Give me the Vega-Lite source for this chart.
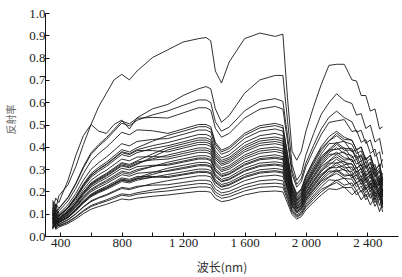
{
"$schema":"https://vega.github.io/schema/vega-lite/v6.json",
"width":353,"height":223,
"autosize":"none",
"padding":{"left":45,"top":13,"right":4,"bottom":41},
"background":"white",
"config":{"view":{"stroke":null},"axis":{"labelFont":"Liberation Serif, Times New Roman, DejaVu Serif, serif","labelFontSize":13,"labelColor":"#222","domainColor":"#111","tickColor":"#111","domainWidth":1,"tickWidth":1,"grid":false}},
"data":{"values":[
{"s":1,"w":350,"r":0.16},{"s":1,"w":370,"r":0.12},{"s":1,"w":390,"r":0.18},{"s":1,"w":450,"r":0.23},{"s":1,"w":500,"r":0.31},{"s":1,"w":550,"r":0.41},{"s":1,"w":600,"r":0.50},{"s":1,"w":650,"r":0.58},{"s":1,"w":700,"r":0.64},{"s":1,"w":750,"r":0.70},{"s":1,"w":800,"r":0.725},{"s":1,"w":850,"r":0.70},{"s":1,"w":900,"r":0.74},{"s":1,"w":1000,"r":0.80},{"s":1,"w":1100,"r":0.835},{"s":1,"w":1200,"r":0.87},{"s":1,"w":1300,"r":0.885},{"s":1,"w":1350,"r":0.89},{"s":1,"w":1380,"r":0.875},{"s":1,"w":1410,"r":0.74},{"s":1,"w":1450,"r":0.686},{"s":1,"w":1500,"r":0.78},{"s":1,"w":1600,"r":0.885},{"s":1,"w":1700,"r":0.91},{"s":1,"w":1800,"r":0.895},{"s":1,"w":1850,"r":0.905},{"s":1,"w":1880,"r":0.62},{"s":1,"w":1910,"r":0.38},{"s":1,"w":1940,"r":0.34},{"s":1,"w":1970,"r":0.38},{"s":1,"w":2000,"r":0.47},{"s":1,"w":2050,"r":0.58},{"s":1,"w":2100,"r":0.68},{"s":1,"w":2150,"r":0.765},{"s":1,"w":2200,"r":0.77},{"s":1,"w":2250,"r":0.77},{"s":1,"w":2300,"r":0.70},{"s":1,"w":2330,"r":0.695},{"s":1,"w":2360,"r":0.63},{"s":1,"w":2390,"r":0.63},{"s":1,"w":2420,"r":0.56},{"s":1,"w":2450,"r":0.57},{"s":1,"w":2480,"r":0.48},{"s":1,"w":2500,"r":0.49},
{"s":2,"w":350,"r":0.12},{"s":2,"w":370,"r":0.17},{"s":2,"w":390,"r":0.15},{"s":2,"w":450,"r":0.25},{"s":2,"w":500,"r":0.36},{"s":2,"w":550,"r":0.45},{"s":2,"w":600,"r":0.50},{"s":2,"w":650,"r":0.47},{"s":2,"w":700,"r":0.46},{"s":2,"w":750,"r":0.50},{"s":2,"w":800,"r":0.52},{"s":2,"w":850,"r":0.48},{"s":2,"w":900,"r":0.53},{"s":2,"w":1000,"r":0.57},{"s":2,"w":1100,"r":0.59},{"s":2,"w":1200,"r":0.63},{"s":2,"w":1300,"r":0.66},{"s":2,"w":1350,"r":0.67},{"s":2,"w":1380,"r":0.66},{"s":2,"w":1410,"r":0.57},{"s":2,"w":1450,"r":0.51},{"s":2,"w":1500,"r":0.54},{"s":2,"w":1600,"r":0.64},{"s":2,"w":1700,"r":0.70},{"s":2,"w":1800,"r":0.72},{"s":2,"w":1850,"r":0.72},{"s":2,"w":1880,"r":0.52},{"s":2,"w":1910,"r":0.32},{"s":2,"w":1940,"r":0.25},{"s":2,"w":1970,"r":0.28},{"s":2,"w":2000,"r":0.364},{"s":2,"w":2050,"r":0.459},{"s":2,"w":2100,"r":0.546},{"s":2,"w":2150,"r":0.597},{"s":2,"w":2200,"r":0.638},{"s":2,"w":2250,"r":0.607},{"s":2,"w":2300,"r":0.594},{"s":2,"w":2330,"r":0.542},{"s":2,"w":2360,"r":0.549},{"s":2,"w":2390,"r":0.482},{"s":2,"w":2420,"r":0.497},{"s":2,"w":2450,"r":0.421},{"s":2,"w":2480,"r":0.438},{"s":2,"w":2500,"r":0.366},
{"s":3,"w":350,"r":0.152},{"s":3,"w":370,"r":0.102},{"s":3,"w":390,"r":0.122},{"s":3,"w":450,"r":0.171},{"s":3,"w":500,"r":0.232},{"s":3,"w":550,"r":0.305},{"s":3,"w":600,"r":0.366},{"s":3,"w":650,"r":0.403},{"s":3,"w":700,"r":0.433},{"s":3,"w":750,"r":0.470},{"s":3,"w":800,"r":0.506},{"s":3,"w":850,"r":0.494},{"s":3,"w":900,"r":0.519},{"s":3,"w":1000,"r":0.543},{"s":3,"w":1100,"r":0.561},{"s":3,"w":1200,"r":0.586},{"s":3,"w":1300,"r":0.61},{"s":3,"w":1350,"r":0.61},{"s":3,"w":1380,"r":0.598},{"s":3,"w":1410,"r":0.512},{"s":3,"w":1450,"r":0.470},{"s":3,"w":1500,"r":0.488},{"s":3,"w":1600,"r":0.561},{"s":3,"w":1700,"r":0.604},{"s":3,"w":1800,"r":0.616},{"s":3,"w":1850,"r":0.604},{"s":3,"w":1880,"r":0.451},{"s":3,"w":1910,"r":0.293},{"s":3,"w":1940,"r":0.232},{"s":3,"w":1970,"r":0.257},{"s":3,"w":2000,"r":0.327},{"s":3,"w":2050,"r":0.407},{"s":3,"w":2100,"r":0.480},{"s":3,"w":2150,"r":0.532},{"s":3,"w":2200,"r":0.56},{"s":3,"w":2250,"r":0.531},{"s":3,"w":2300,"r":0.512},{"s":3,"w":2330,"r":0.466},{"s":3,"w":2360,"r":0.474},{"s":3,"w":2390,"r":0.415},{"s":3,"w":2420,"r":0.431},{"s":3,"w":2450,"r":0.357},{"s":3,"w":2480,"r":0.378},{"s":3,"w":2500,"r":0.306},
{"s":4,"w":350,"r":0.09},{"s":4,"w":370,"r":0.145},{"s":4,"w":390,"r":0.124},{"s":4,"w":450,"r":0.174},{"s":4,"w":500,"r":0.236},{"s":4,"w":550,"r":0.311},{"s":4,"w":600,"r":0.373},{"s":4,"w":650,"r":0.410},{"s":4,"w":700,"r":0.441},{"s":4,"w":750,"r":0.478},{"s":4,"w":800,"r":0.515},{"s":4,"w":850,"r":0.503},{"s":4,"w":900,"r":0.528},{"s":4,"w":1000,"r":0.532},{"s":4,"w":1100,"r":0.529},{"s":4,"w":1200,"r":0.552},{"s":4,"w":1300,"r":0.575},{"s":4,"w":1350,"r":0.575},{"s":4,"w":1380,"r":0.564},{"s":4,"w":1410,"r":0.483},{"s":4,"w":1450,"r":0.443},{"s":4,"w":1500,"r":0.46},{"s":4,"w":1600,"r":0.529},{"s":4,"w":1700,"r":0.569},{"s":4,"w":1800,"r":0.581},{"s":4,"w":1850,"r":0.569},{"s":4,"w":1880,"r":0.426},{"s":4,"w":1910,"r":0.276},{"s":4,"w":1940,"r":0.219},{"s":4,"w":1970,"r":0.243},{"s":4,"w":2000,"r":0.31},{"s":4,"w":2050,"r":0.386},{"s":4,"w":2100,"r":0.455},{"s":4,"w":2150,"r":0.509},{"s":4,"w":2200,"r":0.516},{"s":4,"w":2250,"r":0.522},{"s":4,"w":2300,"r":0.468},{"s":4,"w":2330,"r":0.474},{"s":4,"w":2360,"r":0.42},{"s":4,"w":2390,"r":0.432},{"s":4,"w":2420,"r":0.37},{"s":4,"w":2450,"r":0.39},{"s":4,"w":2480,"r":0.309},{"s":4,"w":2500,"r":0.344},
{"s":5,"w":350,"r":0.128},{"s":5,"w":370,"r":0.06},{"s":5,"w":390,"r":0.093},{"s":5,"w":450,"r":0.130},{"s":5,"w":500,"r":0.177},{"s":5,"w":550,"r":0.233},{"s":5,"w":600,"r":0.280},{"s":5,"w":650,"r":0.308},{"s":5,"w":700,"r":0.331},{"s":5,"w":750,"r":0.359},{"s":5,"w":800,"r":0.387},{"s":5,"w":850,"r":0.377},{"s":5,"w":900,"r":0.396},{"s":5,"w":1000,"r":0.425},{"s":5,"w":1100,"r":0.451},{"s":5,"w":1200,"r":0.470},{"s":5,"w":1300,"r":0.49},{"s":5,"w":1350,"r":0.49},{"s":5,"w":1380,"r":0.48},{"s":5,"w":1410,"r":0.412},{"s":5,"w":1450,"r":0.377},{"s":5,"w":1500,"r":0.392},{"s":5,"w":1600,"r":0.451},{"s":5,"w":1700,"r":0.485},{"s":5,"w":1800,"r":0.495},{"s":5,"w":1850,"r":0.485},{"s":5,"w":1880,"r":0.363},{"s":5,"w":1910,"r":0.235},{"s":5,"w":1940,"r":0.186},{"s":5,"w":1970,"r":0.207},{"s":5,"w":2000,"r":0.266},{"s":5,"w":2050,"r":0.332},{"s":5,"w":2100,"r":0.393},{"s":5,"w":2150,"r":0.427},{"s":5,"w":2200,"r":0.46},{"s":5,"w":2250,"r":0.433},{"s":5,"w":2300,"r":0.43},{"s":5,"w":2330,"r":0.386},{"s":5,"w":2360,"r":0.40},{"s":5,"w":2390,"r":0.341},{"s":5,"w":2420,"r":0.363},{"s":5,"w":2450,"r":0.296},{"s":5,"w":2480,"r":0.322},{"s":5,"w":2500,"r":0.255},
{"s":6,"w":350,"r":0.07},{"s":6,"w":370,"r":0.14},{"s":6,"w":390,"r":0.10},{"s":6,"w":450,"r":0.140},{"s":6,"w":500,"r":0.190},{"s":6,"w":550,"r":0.250},{"s":6,"w":600,"r":0.299},{"s":6,"w":650,"r":0.329},{"s":6,"w":700,"r":0.354},{"s":6,"w":750,"r":0.384},{"s":6,"w":800,"r":0.414},{"s":6,"w":850,"r":0.404},{"s":6,"w":900,"r":0.424},{"s":6,"w":1000,"r":0.433},{"s":6,"w":1100,"r":0.437},{"s":6,"w":1200,"r":0.456},{"s":6,"w":1300,"r":0.475},{"s":6,"w":1350,"r":0.475},{"s":6,"w":1380,"r":0.466},{"s":6,"w":1410,"r":0.399},{"s":6,"w":1450,"r":0.366},{"s":6,"w":1500,"r":0.38},{"s":6,"w":1600,"r":0.437},{"s":6,"w":1700,"r":0.470},{"s":6,"w":1800,"r":0.48},{"s":6,"w":1850,"r":0.47},{"s":6,"w":1880,"r":0.352},{"s":6,"w":1910,"r":0.228},{"s":6,"w":1940,"r":0.18},{"s":6,"w":1970,"r":0.201},{"s":6,"w":2000,"r":0.258},{"s":6,"w":2050,"r":0.323},{"s":6,"w":2100,"r":0.383},{"s":6,"w":2150,"r":0.426},{"s":6,"w":2200,"r":0.45},{"s":6,"w":2250,"r":0.423},{"s":6,"w":2300,"r":0.411},{"s":6,"w":2330,"r":0.369},{"s":6,"w":2360,"r":0.382},{"s":6,"w":2390,"r":0.328},{"s":6,"w":2420,"r":0.348},{"s":6,"w":2450,"r":0.28},{"s":6,"w":2480,"r":0.306},{"s":6,"w":2500,"r":0.238},
{"s":7,"w":350,"r":0.116},{"s":7,"w":370,"r":0.061},{"s":7,"w":390,"r":0.091},{"s":7,"w":450,"r":0.127},{"s":7,"w":500,"r":0.173},{"s":7,"w":550,"r":0.228},{"s":7,"w":600,"r":0.273},{"s":7,"w":650,"r":0.30},{"s":7,"w":700,"r":0.323},{"s":7,"w":750,"r":0.35},{"s":7,"w":800,"r":0.378},{"s":7,"w":850,"r":0.369},{"s":7,"w":900,"r":0.387},{"s":7,"w":1000,"r":0.405},{"s":7,"w":1100,"r":0.419},{"s":7,"w":1200,"r":0.437},{"s":7,"w":1300,"r":0.455},{"s":7,"w":1350,"r":0.455},{"s":7,"w":1380,"r":0.446},{"s":7,"w":1410,"r":0.382},{"s":7,"w":1450,"r":0.35},{"s":7,"w":1500,"r":0.364},{"s":7,"w":1600,"r":0.419},{"s":7,"w":1700,"r":0.45},{"s":7,"w":1800,"r":0.46},{"s":7,"w":1850,"r":0.45},{"s":7,"w":1880,"r":0.337},{"s":7,"w":1910,"r":0.218},{"s":7,"w":1940,"r":0.173},{"s":7,"w":1970,"r":0.193},{"s":7,"w":2000,"r":0.248},{"s":7,"w":2050,"r":0.31},{"s":7,"w":2100,"r":0.368},{"s":7,"w":2150,"r":0.414},{"s":7,"w":2200,"r":0.417},{"s":7,"w":2250,"r":0.425},{"s":7,"w":2300,"r":0.377},{"s":7,"w":2330,"r":0.387},{"s":7,"w":2360,"r":0.337},{"s":7,"w":2390,"r":0.354},{"s":7,"w":2420,"r":0.295},{"s":7,"w":2450,"r":0.321},{"s":7,"w":2480,"r":0.245},{"s":7,"w":2500,"r":0.282},
{"s":8,"w":350,"r":0.109},{"s":8,"w":370,"r":0.084},{"s":8,"w":390,"r":0.079},{"s":8,"w":450,"r":0.111},{"s":8,"w":500,"r":0.150},{"s":8,"w":550,"r":0.198},{"s":8,"w":600,"r":0.238},{"s":8,"w":650,"r":0.261},{"s":8,"w":700,"r":0.281},{"s":8,"w":750,"r":0.305},{"s":8,"w":800,"r":0.329},{"s":8,"w":850,"r":0.321},{"s":8,"w":900,"r":0.337},{"s":8,"w":1000,"r":0.368},{"s":8,"w":1100,"r":0.396},{"s":8,"w":1200,"r":0.413},{"s":8,"w":1300,"r":0.43},{"s":8,"w":1350,"r":0.43},{"s":8,"w":1380,"r":0.421},{"s":8,"w":1410,"r":0.361},{"s":8,"w":1450,"r":0.331},{"s":8,"w":1500,"r":0.344},{"s":8,"w":1600,"r":0.396},{"s":8,"w":1700,"r":0.426},{"s":8,"w":1800,"r":0.434},{"s":8,"w":1850,"r":0.426},{"s":8,"w":1880,"r":0.318},{"s":8,"w":1910,"r":0.206},{"s":8,"w":1940,"r":0.163},{"s":8,"w":1970,"r":0.182},{"s":8,"w":2000,"r":0.235},{"s":8,"w":2050,"r":0.295},{"s":8,"w":2100,"r":0.35},{"s":8,"w":2150,"r":0.38},{"s":8,"w":2200,"r":0.411},{"s":8,"w":2250,"r":0.385},{"s":8,"w":2300,"r":0.385},{"s":8,"w":2330,"r":0.343},{"s":8,"w":2360,"r":0.359},{"s":8,"w":2390,"r":0.302},{"s":8,"w":2420,"r":0.326},{"s":8,"w":2450,"r":0.262},{"s":8,"w":2480,"r":0.29},{"s":8,"w":2500,"r":0.225},
{"s":9,"w":350,"r":0.055},{"s":9,"w":370,"r":0.12},{"s":9,"w":390,"r":0.09},{"s":9,"w":450,"r":0.126},{"s":9,"w":500,"r":0.171},{"s":9,"w":550,"r":0.226},{"s":9,"w":600,"r":0.271},{"s":9,"w":650,"r":0.298},{"s":9,"w":700,"r":0.32},{"s":9,"w":750,"r":0.347},{"s":9,"w":800,"r":0.374},{"s":9,"w":850,"r":0.365},{"s":9,"w":900,"r":0.383},{"s":9,"w":1000,"r":0.383},{"s":9,"w":1100,"r":0.377},{"s":9,"w":1200,"r":0.394},{"s":9,"w":1300,"r":0.41},{"s":9,"w":1350,"r":0.41},{"s":9,"w":1380,"r":0.402},{"s":9,"w":1410,"r":0.344},{"s":9,"w":1450,"r":0.316},{"s":9,"w":1500,"r":0.328},{"s":9,"w":1600,"r":0.377},{"s":9,"w":1700,"r":0.406},{"s":9,"w":1800,"r":0.414},{"s":9,"w":1850,"r":0.406},{"s":9,"w":1880,"r":0.303},{"s":9,"w":1910,"r":0.197},{"s":9,"w":1940,"r":0.156},{"s":9,"w":1970,"r":0.174},{"s":9,"w":2000,"r":0.225},{"s":9,"w":2050,"r":0.283},{"s":9,"w":2100,"r":0.335},{"s":9,"w":2150,"r":0.374},{"s":9,"w":2200,"r":0.396},{"s":9,"w":2250,"r":0.37},{"s":9,"w":2300,"r":0.361},{"s":9,"w":2330,"r":0.322},{"s":9,"w":2360,"r":0.336},{"s":9,"w":2390,"r":0.285},{"s":9,"w":2420,"r":0.308},{"s":9,"w":2450,"r":0.242},{"s":9,"w":2480,"r":0.271},{"s":9,"w":2500,"r":0.204},
{"s":10,"w":350,"r":0.097},{"s":10,"w":370,"r":0.052},{"s":10,"w":390,"r":0.077},{"s":10,"w":450,"r":0.107},{"s":10,"w":500,"r":0.146},{"s":10,"w":550,"r":0.192},{"s":10,"w":600,"r":0.23},{"s":10,"w":650,"r":0.253},{"s":10,"w":700,"r":0.272},{"s":10,"w":750,"r":0.295},{"s":10,"w":800,"r":0.318},{"s":10,"w":850,"r":0.31},{"s":10,"w":900,"r":0.326},{"s":10,"w":1000,"r":0.346},{"s":10,"w":1100,"r":0.363},{"s":10,"w":1200,"r":0.379},{"s":10,"w":1300,"r":0.395},{"s":10,"w":1350,"r":0.395},{"s":10,"w":1380,"r":0.387},{"s":10,"w":1410,"r":0.332},{"s":10,"w":1450,"r":0.304},{"s":10,"w":1500,"r":0.316},{"s":10,"w":1600,"r":0.363},{"s":10,"w":1700,"r":0.391},{"s":10,"w":1800,"r":0.399},{"s":10,"w":1850,"r":0.391},{"s":10,"w":1880,"r":0.292},{"s":10,"w":1910,"r":0.19},{"s":10,"w":1940,"r":0.15},{"s":10,"w":1970,"r":0.168},{"s":10,"w":2000,"r":0.217},{"s":10,"w":2050,"r":0.273},{"s":10,"w":2100,"r":0.325},{"s":10,"w":2150,"r":0.366},{"s":10,"w":2200,"r":0.368},{"s":10,"w":2250,"r":0.377},{"s":10,"w":2300,"r":0.332},{"s":10,"w":2330,"r":0.344},{"s":10,"w":2360,"r":0.296},{"s":10,"w":2390,"r":0.315},{"s":10,"w":2420,"r":0.259},{"s":10,"w":2450,"r":0.287},{"s":10,"w":2480,"r":0.213},{"s":10,"w":2500,"r":0.252},
{"s":11,"w":350,"r":0.118},{"s":11,"w":370,"r":0.068},{"s":11,"w":390,"r":0.078},{"s":11,"w":450,"r":0.109},{"s":11,"w":500,"r":0.148},{"s":11,"w":550,"r":0.195},{"s":11,"w":600,"r":0.234},{"s":11,"w":650,"r":0.257},{"s":11,"w":700,"r":0.277},{"s":11,"w":750,"r":0.30},{"s":11,"w":800,"r":0.324},{"s":11,"w":850,"r":0.316},{"s":11,"w":900,"r":0.332},{"s":11,"w":1000,"r":0.341},{"s":11,"w":1100,"r":0.345},{"s":11,"w":1200,"r":0.36},{"s":11,"w":1300,"r":0.375},{"s":11,"w":1350,"r":0.375},{"s":11,"w":1380,"r":0.368},{"s":11,"w":1410,"r":0.315},{"s":11,"w":1450,"r":0.289},{"s":11,"w":1500,"r":0.30},{"s":11,"w":1600,"r":0.345},{"s":11,"w":1700,"r":0.371},{"s":11,"w":1800,"r":0.379},{"s":11,"w":1850,"r":0.371},{"s":11,"w":1880,"r":0.278},{"s":11,"w":1910,"r":0.18},{"s":11,"w":1940,"r":0.143},{"s":11,"w":1970,"r":0.16},{"s":11,"w":2000,"r":0.208},{"s":11,"w":2050,"r":0.261},{"s":11,"w":2100,"r":0.311},{"s":11,"w":2150,"r":0.337},{"s":11,"w":2200,"r":0.366},{"s":11,"w":2250,"r":0.341},{"s":11,"w":2300,"r":0.343},{"s":11,"w":2330,"r":0.303},{"s":11,"w":2360,"r":0.321},{"s":11,"w":2390,"r":0.267},{"s":11,"w":2420,"r":0.293},{"s":11,"w":2450,"r":0.231},{"s":11,"w":2480,"r":0.261},{"s":11,"w":2500,"r":0.197},
{"s":12,"w":350,"r":0.038},{"s":12,"w":370,"r":0.103},{"s":12,"w":390,"r":0.068},{"s":12,"w":450,"r":0.096},{"s":12,"w":500,"r":0.13},{"s":12,"w":550,"r":0.171},{"s":12,"w":600,"r":0.205},{"s":12,"w":650,"r":0.226},{"s":12,"w":700,"r":0.243},{"s":12,"w":750,"r":0.263},{"s":12,"w":800,"r":0.284},{"s":12,"w":850,"r":0.277},{"s":12,"w":900,"r":0.291},{"s":12,"w":1000,"r":0.312},{"s":12,"w":1100,"r":0.331},{"s":12,"w":1200,"r":0.346},{"s":12,"w":1300,"r":0.36},{"s":12,"w":1350,"r":0.36},{"s":12,"w":1380,"r":0.353},{"s":12,"w":1410,"r":0.302},{"s":12,"w":1450,"r":0.277},{"s":12,"w":1500,"r":0.288},{"s":12,"w":1600,"r":0.331},{"s":12,"w":1700,"r":0.356},{"s":12,"w":1800,"r":0.364},{"s":12,"w":1850,"r":0.356},{"s":12,"w":1880,"r":0.266},{"s":12,"w":1910,"r":0.173},{"s":12,"w":1940,"r":0.137},{"s":12,"w":1970,"r":0.154},{"s":12,"w":2000,"r":0.199},{"s":12,"w":2050,"r":0.251},{"s":12,"w":2100,"r":0.299},{"s":12,"w":2150,"r":0.334},{"s":12,"w":2200,"r":0.355},{"s":12,"w":2250,"r":0.33},{"s":12,"w":2300,"r":0.323},{"s":12,"w":2330,"r":0.286},{"s":12,"w":2360,"r":0.302},{"s":12,"w":2390,"r":0.253},{"s":12,"w":2420,"r":0.277},{"s":12,"w":2450,"r":0.214},{"s":12,"w":2480,"r":0.244},{"s":12,"w":2500,"r":0.179},
{"s":13,"w":350,"r":0.103},{"s":13,"w":370,"r":0.05},{"s":13,"w":390,"r":0.073},{"s":13,"w":450,"r":0.102},{"s":13,"w":500,"r":0.139},{"s":13,"w":550,"r":0.183},{"s":13,"w":600,"r":0.22},{"s":13,"w":650,"r":0.242},{"s":13,"w":700,"r":0.26},{"s":13,"w":750,"r":0.282},{"s":13,"w":800,"r":0.304},{"s":13,"w":850,"r":0.296},{"s":13,"w":900,"r":0.311},{"s":13,"w":1000,"r":0.317},{"s":13,"w":1100,"r":0.317},{"s":13,"w":1200,"r":0.331},{"s":13,"w":1300,"r":0.345},{"s":13,"w":1350,"r":0.345},{"s":13,"w":1380,"r":0.338},{"s":13,"w":1410,"r":0.29},{"s":13,"w":1450,"r":0.266},{"s":13,"w":1500,"r":0.276},{"s":13,"w":1600,"r":0.317},{"s":13,"w":1700,"r":0.342},{"s":13,"w":1800,"r":0.348},{"s":13,"w":1850,"r":0.342},{"s":13,"w":1880,"r":0.255},{"s":13,"w":1910,"r":0.166},{"s":13,"w":1940,"r":0.131},{"s":13,"w":1970,"r":0.147},{"s":13,"w":2000,"r":0.192},{"s":13,"w":2050,"r":0.242},{"s":13,"w":2100,"r":0.289},{"s":13,"w":2150,"r":0.327},{"s":13,"w":2200,"r":0.327},{"s":13,"w":2250,"r":0.336},{"s":13,"w":2300,"r":0.294},{"s":13,"w":2330,"r":0.308},{"s":13,"w":2360,"r":0.262},{"s":13,"w":2390,"r":0.283},{"s":13,"w":2420,"r":0.228},{"s":13,"w":2450,"r":0.258},{"s":13,"w":2480,"r":0.186},{"s":13,"w":2500,"r":0.226},
{"s":14,"w":350,"r":0.086},{"s":14,"w":370,"r":0.041},{"s":14,"w":390,"r":0.061},{"s":14,"w":450,"r":0.086},{"s":14,"w":500,"r":0.117},{"s":14,"w":550,"r":0.154},{"s":14,"w":600,"r":0.184},{"s":14,"w":650,"r":0.203},{"s":14,"w":700,"r":0.218},{"s":14,"w":750,"r":0.236},{"s":14,"w":800,"r":0.255},{"s":14,"w":850,"r":0.249},{"s":14,"w":900,"r":0.261},{"s":14,"w":1000,"r":0.284},{"s":14,"w":1100,"r":0.304},{"s":14,"w":1200,"r":0.317},{"s":14,"w":1300,"r":0.33},{"s":14,"w":1350,"r":0.33},{"s":14,"w":1380,"r":0.323},{"s":14,"w":1410,"r":0.277},{"s":14,"w":1450,"r":0.254},{"s":14,"w":1500,"r":0.264},{"s":14,"w":1600,"r":0.304},{"s":14,"w":1700,"r":0.327},{"s":14,"w":1800,"r":0.333},{"s":14,"w":1850,"r":0.327},{"s":14,"w":1880,"r":0.244},{"s":14,"w":1910,"r":0.158},{"s":14,"w":1940,"r":0.125},{"s":14,"w":1970,"r":0.141},{"s":14,"w":2000,"r":0.184},{"s":14,"w":2050,"r":0.233},{"s":14,"w":2100,"r":0.278},{"s":14,"w":2150,"r":0.301},{"s":14,"w":2200,"r":0.329},{"s":14,"w":2250,"r":0.305},{"s":14,"w":2300,"r":0.309},{"s":14,"w":2330,"r":0.27},{"s":14,"w":2360,"r":0.29},{"s":14,"w":2390,"r":0.238},{"s":14,"w":2420,"r":0.265},{"s":14,"w":2450,"r":0.205},{"s":14,"w":2480,"r":0.237},{"s":14,"w":2500,"r":0.174},
{"s":15,"w":350,"r":0.101},{"s":15,"w":370,"r":0.041},{"s":15,"w":390,"r":0.066},{"s":15,"w":450,"r":0.093},{"s":15,"w":500,"r":0.126},{"s":15,"w":550,"r":0.166},{"s":15,"w":600,"r":0.199},{"s":15,"w":650,"r":0.218},{"s":15,"w":700,"r":0.235},{"s":15,"w":750,"r":0.255},{"s":15,"w":800,"r":0.275},{"s":15,"w":850,"r":0.268},{"s":15,"w":900,"r":0.281},{"s":15,"w":1000,"r":0.287},{"s":15,"w":1100,"r":0.29},{"s":15,"w":1200,"r":0.302},{"s":15,"w":1300,"r":0.315},{"s":15,"w":1350,"r":0.315},{"s":15,"w":1380,"r":0.309},{"s":15,"w":1410,"r":0.265},{"s":15,"w":1450,"r":0.243},{"s":15,"w":1500,"r":0.252},{"s":15,"w":1600,"r":0.29},{"s":15,"w":1700,"r":0.312},{"s":15,"w":1800,"r":0.318},{"s":15,"w":1850,"r":0.312},{"s":15,"w":1880,"r":0.233},{"s":15,"w":1910,"r":0.151},{"s":15,"w":1940,"r":0.12},{"s":15,"w":1970,"r":0.135},{"s":15,"w":2000,"r":0.176},{"s":15,"w":2050,"r":0.223},{"s":15,"w":2100,"r":0.267},{"s":15,"w":2150,"r":0.299},{"s":15,"w":2200,"r":0.318},{"s":15,"w":2250,"r":0.294},{"s":15,"w":2300,"r":0.289},{"s":15,"w":2330,"r":0.253},{"s":15,"w":2360,"r":0.271},{"s":15,"w":2390,"r":0.223},{"s":15,"w":2420,"r":0.249},{"s":15,"w":2450,"r":0.188},{"s":15,"w":2480,"r":0.22},{"s":15,"w":2500,"r":0.156},
{"s":16,"w":350,"r":0.079},{"s":16,"w":370,"r":0.099},{"s":16,"w":390,"r":0.059},{"s":16,"w":450,"r":0.082},{"s":16,"w":500,"r":0.112},{"s":16,"w":550,"r":0.147},{"s":16,"w":600,"r":0.176},{"s":16,"w":650,"r":0.194},{"s":16,"w":700,"r":0.209},{"s":16,"w":750,"r":0.226},{"s":16,"w":800,"r":0.244},{"s":16,"w":850,"r":0.238},{"s":16,"w":900,"r":0.25},{"s":16,"w":1000,"r":0.264},{"s":16,"w":1100,"r":0.276},{"s":16,"w":1200,"r":0.288},{"s":16,"w":1300,"r":0.30},{"s":16,"w":1350,"r":0.30},{"s":16,"w":1380,"r":0.294},{"s":16,"w":1410,"r":0.252},{"s":16,"w":1450,"r":0.231},{"s":16,"w":1500,"r":0.24},{"s":16,"w":1600,"r":0.276},{"s":16,"w":1700,"r":0.297},{"s":16,"w":1800,"r":0.303},{"s":16,"w":1850,"r":0.297},{"s":16,"w":1880,"r":0.222},{"s":16,"w":1910,"r":0.144},{"s":16,"w":1940,"r":0.114},{"s":16,"w":1970,"r":0.129},{"s":16,"w":2000,"r":0.169},{"s":16,"w":2050,"r":0.214},{"s":16,"w":2100,"r":0.256},{"s":16,"w":2150,"r":0.291},{"s":16,"w":2200,"r":0.29},{"s":16,"w":2250,"r":0.30},{"s":16,"w":2300,"r":0.26},{"s":16,"w":2330,"r":0.275},{"s":16,"w":2360,"r":0.231},{"s":16,"w":2390,"r":0.254},{"s":16,"w":2420,"r":0.2},{"s":16,"w":2450,"r":0.232},{"s":16,"w":2480,"r":0.162},{"s":16,"w":2500,"r":0.204},
{"s":17,"w":350,"r":0.033},{"s":17,"w":370,"r":0.093},{"s":17,"w":390,"r":0.063},{"s":17,"w":450,"r":0.088},{"s":17,"w":500,"r":0.119},{"s":17,"w":550,"r":0.157},{"s":17,"w":600,"r":0.188},{"s":17,"w":650,"r":0.207},{"s":17,"w":700,"r":0.223},{"s":17,"w":750,"r":0.242},{"s":17,"w":800,"r":0.261},{"s":17,"w":850,"r":0.254},{"s":17,"w":900,"r":0.267},{"s":17,"w":1000,"r":0.267},{"s":17,"w":1100,"r":0.262},{"s":17,"w":1200,"r":0.274},{"s":17,"w":1300,"r":0.285},{"s":17,"w":1350,"r":0.285},{"s":17,"w":1380,"r":0.279},{"s":17,"w":1410,"r":0.239},{"s":17,"w":1450,"r":0.219},{"s":17,"w":1500,"r":0.228},{"s":17,"w":1600,"r":0.262},{"s":17,"w":1700,"r":0.282},{"s":17,"w":1800,"r":0.288},{"s":17,"w":1850,"r":0.282},{"s":17,"w":1880,"r":0.211},{"s":17,"w":1910,"r":0.137},{"s":17,"w":1940,"r":0.108},{"s":17,"w":1970,"r":0.122},{"s":17,"w":2000,"r":0.161},{"s":17,"w":2050,"r":0.205},{"s":17,"w":2100,"r":0.245},{"s":17,"w":2150,"r":0.266},{"s":17,"w":2200,"r":0.292},{"s":17,"w":2250,"r":0.268},{"s":17,"w":2300,"r":0.275},{"s":17,"w":2330,"r":0.238},{"s":17,"w":2360,"r":0.259},{"s":17,"w":2390,"r":0.208},{"s":17,"w":2420,"r":0.237},{"s":17,"w":2450,"r":0.179},{"s":17,"w":2480,"r":0.213},{"s":17,"w":2500,"r":0.151},
{"s":18,"w":350,"r":0.081},{"s":18,"w":370,"r":0.036},{"s":18,"w":390,"r":0.051},{"s":18,"w":450,"r":0.072},{"s":18,"w":500,"r":0.098},{"s":18,"w":550,"r":0.129},{"s":18,"w":600,"r":0.154},{"s":18,"w":650,"r":0.17},{"s":18,"w":700,"r":0.182},{"s":18,"w":750,"r":0.198},{"s":18,"w":800,"r":0.213},{"s":18,"w":850,"r":0.208},{"s":18,"w":900,"r":0.218},{"s":18,"w":1000,"r":0.235},{"s":18,"w":1100,"r":0.248},{"s":18,"w":1200,"r":0.259},{"s":18,"w":1300,"r":0.27},{"s":18,"w":1350,"r":0.27},{"s":18,"w":1380,"r":0.265},{"s":18,"w":1410,"r":0.227},{"s":18,"w":1450,"r":0.208},{"s":18,"w":1500,"r":0.216},{"s":18,"w":1600,"r":0.248},{"s":18,"w":1700,"r":0.267},{"s":18,"w":1800,"r":0.273},{"s":18,"w":1850,"r":0.267},{"s":18,"w":1880,"r":0.20},{"s":18,"w":1910,"r":0.13},{"s":18,"w":1940,"r":0.103},{"s":18,"w":1970,"r":0.116},{"s":18,"w":2000,"r":0.153},{"s":18,"w":2050,"r":0.195},{"s":18,"w":2100,"r":0.234},{"s":18,"w":2150,"r":0.263},{"s":18,"w":2200,"r":0.281},{"s":18,"w":2250,"r":0.258},{"s":18,"w":2300,"r":0.255},{"s":18,"w":2330,"r":0.22},{"s":18,"w":2360,"r":0.24},{"s":18,"w":2390,"r":0.194},{"s":18,"w":2420,"r":0.221},{"s":18,"w":2450,"r":0.162},{"s":18,"w":2480,"r":0.196},{"s":18,"w":2500,"r":0.133},
{"s":19,"w":350,"r":0.088},{"s":19,"w":370,"r":0.033},{"s":19,"w":390,"r":0.053},{"s":19,"w":450,"r":0.074},{"s":19,"w":500,"r":0.10},{"s":19,"w":550,"r":0.131},{"s":19,"w":600,"r":0.158},{"s":19,"w":650,"r":0.173},{"s":19,"w":700,"r":0.186},{"s":19,"w":750,"r":0.202},{"s":19,"w":800,"r":0.218},{"s":19,"w":850,"r":0.213},{"s":19,"w":900,"r":0.223},{"s":19,"w":1000,"r":0.228},{"s":19,"w":1100,"r":0.23},{"s":19,"w":1200,"r":0.24},{"s":19,"w":1300,"r":0.25},{"s":19,"w":1350,"r":0.25},{"s":19,"w":1380,"r":0.245},{"s":19,"w":1410,"r":0.21},{"s":19,"w":1450,"r":0.193},{"s":19,"w":1500,"r":0.20},{"s":19,"w":1600,"r":0.23},{"s":19,"w":1700,"r":0.248},{"s":19,"w":1800,"r":0.253},{"s":19,"w":1850,"r":0.248},{"s":19,"w":1880,"r":0.185},{"s":19,"w":1910,"r":0.12},{"s":19,"w":1940,"r":0.095},{"s":19,"w":1970,"r":0.108},{"s":19,"w":2000,"r":0.143},{"s":19,"w":2050,"r":0.183},{"s":19,"w":2100,"r":0.22},{"s":19,"w":2150,"r":0.252},{"s":19,"w":2200,"r":0.249},{"s":19,"w":2250,"r":0.26},{"s":19,"w":2300,"r":0.223},{"s":19,"w":2330,"r":0.239},{"s":19,"w":2360,"r":0.196},{"s":19,"w":2390,"r":0.221},{"s":19,"w":2420,"r":0.169},{"s":19,"w":2450,"r":0.204},{"s":19,"w":2480,"r":0.136},{"s":19,"w":2500,"r":0.178},
{"s":20,"w":350,"r":0.071},{"s":20,"w":370,"r":0.091},{"s":20,"w":390,"r":0.046},{"s":20,"w":450,"r":0.064},{"s":20,"w":500,"r":0.087},{"s":20,"w":550,"r":0.114},{"s":20,"w":600,"r":0.137},{"s":20,"w":650,"r":0.15},{"s":20,"w":700,"r":0.162},{"s":20,"w":750,"r":0.176},{"s":20,"w":800,"r":0.189},{"s":20,"w":850,"r":0.185},{"s":20,"w":900,"r":0.194},{"s":20,"w":1000,"r":0.206},{"s":20,"w":1100,"r":0.216},{"s":20,"w":1200,"r":0.226},{"s":20,"w":1300,"r":0.235},{"s":20,"w":1350,"r":0.235},{"s":20,"w":1380,"r":0.23},{"s":20,"w":1410,"r":0.197},{"s":20,"w":1450,"r":0.181},{"s":20,"w":1500,"r":0.188},{"s":20,"w":1600,"r":0.216},{"s":20,"w":1700,"r":0.233},{"s":20,"w":1800,"r":0.237},{"s":20,"w":1850,"r":0.233},{"s":20,"w":1880,"r":0.174},{"s":20,"w":1910,"r":0.113},{"s":20,"w":1940,"r":0.089},{"s":20,"w":1970,"r":0.101},{"s":20,"w":2000,"r":0.135},{"s":20,"w":2050,"r":0.174},{"s":20,"w":2100,"r":0.209},{"s":20,"w":2150,"r":0.226},{"s":20,"w":2200,"r":0.251},{"s":20,"w":2250,"r":0.228},{"s":20,"w":2300,"r":0.238},{"s":20,"w":2330,"r":0.202},{"s":20,"w":2360,"r":0.224},{"s":20,"w":2390,"r":0.176},{"s":20,"w":2420,"r":0.206},{"s":20,"w":2450,"r":0.15},{"s":20,"w":2480,"r":0.186},{"s":20,"w":2500,"r":0.126},
{"s":21,"w":350,"r":0.03},{"s":21,"w":370,"r":0.074},{"s":21,"w":390,"r":0.044},{"s":21,"w":450,"r":0.062},{"s":21,"w":500,"r":0.084},{"s":21,"w":550,"r":0.11},{"s":21,"w":600,"r":0.132},{"s":21,"w":650,"r":0.145},{"s":21,"w":700,"r":0.156},{"s":21,"w":750,"r":0.169},{"s":21,"w":800,"r":0.183},{"s":21,"w":850,"r":0.178},{"s":21,"w":900,"r":0.187},{"s":21,"w":1000,"r":0.196},{"s":21,"w":1100,"r":0.202},{"s":21,"w":1200,"r":0.211},{"s":21,"w":1300,"r":0.22},{"s":21,"w":1350,"r":0.22},{"s":21,"w":1380,"r":0.216},{"s":21,"w":1410,"r":0.185},{"s":21,"w":1450,"r":0.169},{"s":21,"w":1500,"r":0.176},{"s":21,"w":1600,"r":0.202},{"s":21,"w":1700,"r":0.218},{"s":21,"w":1800,"r":0.222},{"s":21,"w":1850,"r":0.218},{"s":21,"w":1880,"r":0.163},{"s":21,"w":1910,"r":0.106},{"s":21,"w":1940,"r":0.084},{"s":21,"w":1970,"r":0.096},{"s":21,"w":2000,"r":0.128},{"s":21,"w":2050,"r":0.164},{"s":21,"w":2100,"r":0.198},{"s":21,"w":2150,"r":0.224},{"s":21,"w":2200,"r":0.24},{"s":21,"w":2250,"r":0.217},{"s":21,"w":2300,"r":0.218},{"s":21,"w":2330,"r":0.184},{"s":21,"w":2360,"r":0.205},{"s":21,"w":2390,"r":0.162},{"s":21,"w":2420,"r":0.191},{"s":21,"w":2450,"r":0.133},{"s":21,"w":2480,"r":0.17},{"s":21,"w":2500,"r":0.108},
{"s":22,"w":350,"r":0.07},{"s":22,"w":370,"r":0.03},{"s":22,"w":390,"r":0.04},{"s":22,"w":450,"r":0.056},{"s":22,"w":500,"r":0.076},{"s":22,"w":550,"r":0.10},{"s":22,"w":600,"r":0.12},{"s":22,"w":650,"r":0.132},{"s":22,"w":700,"r":0.142},{"s":22,"w":750,"r":0.154},{"s":22,"w":800,"r":0.166},{"s":22,"w":850,"r":0.162},{"s":22,"w":900,"r":0.17},{"s":22,"w":1000,"r":0.178},{"s":22,"w":1100,"r":0.184},{"s":22,"w":1200,"r":0.192},{"s":22,"w":1300,"r":0.20},{"s":22,"w":1350,"r":0.20},{"s":22,"w":1380,"r":0.196},{"s":22,"w":1410,"r":0.168},{"s":22,"w":1450,"r":0.154},{"s":22,"w":1500,"r":0.16},{"s":22,"w":1600,"r":0.184},{"s":22,"w":1700,"r":0.198},{"s":22,"w":1800,"r":0.202},{"s":22,"w":1850,"r":0.198},{"s":22,"w":1880,"r":0.148},{"s":22,"w":1910,"r":0.096},{"s":22,"w":1940,"r":0.076},{"s":22,"w":1970,"r":0.087},{"s":22,"w":2000,"r":0.117},{"s":22,"w":2050,"r":0.152},{"s":22,"w":2100,"r":0.184},{"s":22,"w":2150,"r":0.212},{"s":22,"w":2200,"r":0.208},{"s":22,"w":2250,"r":0.22},{"s":22,"w":2300,"r":0.185},{"s":22,"w":2330,"r":0.203},{"s":22,"w":2360,"r":0.162},{"s":22,"w":2390,"r":0.189},{"s":22,"w":2420,"r":0.139},{"s":22,"w":2450,"r":0.175},{"s":22,"w":2480,"r":0.109},{"s":22,"w":2500,"r":0.152},
{"s":23,"w":350,"r":0.142},{"s":23,"w":370,"r":0.082},{"s":23,"w":390,"r":0.112},{"s":23,"w":450,"r":0.157},{"s":23,"w":500,"r":0.213},{"s":23,"w":550,"r":0.28},{"s":23,"w":600,"r":0.336},{"s":23,"w":650,"r":0.37},{"s":23,"w":700,"r":0.398},{"s":23,"w":750,"r":0.431},{"s":23,"w":800,"r":0.465},{"s":23,"w":850,"r":0.454},{"s":23,"w":900,"r":0.476},{"s":23,"w":1000,"r":0.472},{"s":23,"w":1100,"r":0.46},{"s":23,"w":1200,"r":0.48},{"s":23,"w":1300,"r":0.50},{"s":23,"w":1350,"r":0.50},{"s":23,"w":1380,"r":0.49},{"s":23,"w":1410,"r":0.42},{"s":23,"w":1450,"r":0.385},{"s":23,"w":1500,"r":0.40},{"s":23,"w":1600,"r":0.46},{"s":23,"w":1700,"r":0.495},{"s":23,"w":1800,"r":0.505},{"s":23,"w":1850,"r":0.495},{"s":23,"w":1880,"r":0.37},{"s":23,"w":1910,"r":0.24},{"s":23,"w":1940,"r":0.19},{"s":23,"w":1970,"r":0.212},{"s":23,"w":2000,"r":0.271},{"s":23,"w":2050,"r":0.339},{"s":23,"w":2100,"r":0.401},{"s":23,"w":2150,"r":0.445},{"s":23,"w":2200,"r":0.47},{"s":23,"w":2250,"r":0.443},{"s":23,"w":2300,"r":0.429},{"s":23,"w":2330,"r":0.387},{"s":23,"w":2360,"r":0.398},{"s":23,"w":2390,"r":0.343},{"s":23,"w":2420,"r":0.363},{"s":23,"w":2450,"r":0.294},{"s":23,"w":2480,"r":0.319},{"s":23,"w":2500,"r":0.25},
{"s":24,"w":350,"r":0.058},{"s":24,"w":370,"r":0.123},{"s":24,"w":390,"r":0.088},{"s":24,"w":450,"r":0.123},{"s":24,"w":500,"r":0.167},{"s":24,"w":550,"r":0.22},{"s":24,"w":600,"r":0.264},{"s":24,"w":650,"r":0.29},{"s":24,"w":700,"r":0.312},{"s":24,"w":750,"r":0.339},{"s":24,"w":800,"r":0.365},{"s":24,"w":850,"r":0.356},{"s":24,"w":900,"r":0.374},{"s":24,"w":1000,"r":0.392},{"s":24,"w":1100,"r":0.405},{"s":24,"w":1200,"r":0.422},{"s":24,"w":1300,"r":0.44},{"s":24,"w":1350,"r":0.44},{"s":24,"w":1380,"r":0.431},{"s":24,"w":1410,"r":0.37},{"s":24,"w":1450,"r":0.339},{"s":24,"w":1500,"r":0.352},{"s":24,"w":1600,"r":0.405},{"s":24,"w":1700,"r":0.436},{"s":24,"w":1800,"r":0.444},{"s":24,"w":1850,"r":0.436},{"s":24,"w":1880,"r":0.326},{"s":24,"w":1910,"r":0.211},{"s":24,"w":1940,"r":0.167},{"s":24,"w":1970,"r":0.187},{"s":24,"w":2000,"r":0.24},{"s":24,"w":2050,"r":0.301},{"s":24,"w":2100,"r":0.357},{"s":24,"w":2150,"r":0.388},{"s":24,"w":2200,"r":0.419},{"s":24,"w":2250,"r":0.393},{"s":24,"w":2300,"r":0.392},{"s":24,"w":2330,"r":0.35},{"s":24,"w":2360,"r":0.365},{"s":24,"w":2390,"r":0.309},{"s":24,"w":2420,"r":0.332},{"s":24,"w":2450,"r":0.268},{"s":24,"w":2480,"r":0.295},{"s":24,"w":2500,"r":0.23},
{"s":25,"w":350,"r":0.101},{"s":25,"w":370,"r":0.056},{"s":25,"w":390,"r":0.076},{"s":25,"w":450,"r":0.106},{"s":25,"w":500,"r":0.144},{"s":25,"w":550,"r":0.189},{"s":25,"w":600,"r":0.227},{"s":25,"w":650,"r":0.249},{"s":25,"w":700,"r":0.268},{"s":25,"w":750,"r":0.291},{"s":25,"w":800,"r":0.314},{"s":25,"w":850,"r":0.306},{"s":25,"w":900,"r":0.321},{"s":25,"w":1000,"r":0.355},{"s":25,"w":1100,"r":0.386},{"s":25,"w":1200,"r":0.403},{"s":25,"w":1300,"r":0.42},{"s":25,"w":1350,"r":0.42},{"s":25,"w":1380,"r":0.412},{"s":25,"w":1410,"r":0.353},{"s":25,"w":1450,"r":0.323},{"s":25,"w":1500,"r":0.336},{"s":25,"w":1600,"r":0.386},{"s":25,"w":1700,"r":0.416},{"s":25,"w":1800,"r":0.424},{"s":25,"w":1850,"r":0.416},{"s":25,"w":1880,"r":0.311},{"s":25,"w":1910,"r":0.202},{"s":25,"w":1940,"r":0.16},{"s":25,"w":1970,"r":0.179},{"s":25,"w":2000,"r":0.23},{"s":25,"w":2050,"r":0.289},{"s":25,"w":2100,"r":0.343},{"s":25,"w":2150,"r":0.386},{"s":25,"w":2200,"r":0.388},{"s":25,"w":2250,"r":0.396},{"s":25,"w":2300,"r":0.35},{"s":25,"w":2330,"r":0.362},{"s":25,"w":2360,"r":0.313},{"s":25,"w":2390,"r":0.331},{"s":25,"w":2420,"r":0.274},{"s":25,"w":2450,"r":0.301},{"s":25,"w":2480,"r":0.226},{"s":25,"w":2500,"r":0.264},
{"s":26,"w":350,"r":0.048},{"s":26,"w":370,"r":0.103},{"s":26,"w":390,"r":0.083},{"s":26,"w":450,"r":0.116},{"s":26,"w":500,"r":0.158},{"s":26,"w":550,"r":0.208},{"s":26,"w":600,"r":0.25},{"s":26,"w":650,"r":0.275},{"s":26,"w":700,"r":0.295},{"s":26,"w":750,"r":0.32},{"s":26,"w":800,"r":0.345},{"s":26,"w":850,"r":0.337},{"s":26,"w":900,"r":0.354},{"s":26,"w":1000,"r":0.356},{"s":26,"w":1100,"r":0.354},{"s":26,"w":1200,"r":0.37},{"s":26,"w":1300,"r":0.385},{"s":26,"w":1350,"r":0.385},{"s":26,"w":1380,"r":0.377},{"s":26,"w":1410,"r":0.323},{"s":26,"w":1450,"r":0.296},{"s":26,"w":1500,"r":0.308},{"s":26,"w":1600,"r":0.354},{"s":26,"w":1700,"r":0.381},{"s":26,"w":1800,"r":0.389},{"s":26,"w":1850,"r":0.381},{"s":26,"w":1880,"r":0.285},{"s":26,"w":1910,"r":0.185},{"s":26,"w":1940,"r":0.146},{"s":26,"w":1970,"r":0.164},{"s":26,"w":2000,"r":0.212},{"s":26,"w":2050,"r":0.267},{"s":26,"w":2100,"r":0.318},{"s":26,"w":2150,"r":0.355},{"s":26,"w":2200,"r":0.376},{"s":26,"w":2250,"r":0.351},{"s":26,"w":2300,"r":0.343},{"s":26,"w":2330,"r":0.304},{"s":26,"w":2360,"r":0.319},{"s":26,"w":2390,"r":0.269},{"s":26,"w":2420,"r":0.293},{"s":26,"w":2450,"r":0.228},{"s":26,"w":2480,"r":0.258},{"s":26,"w":2500,"r":0.192},
{"s":27,"w":350,"r":0.11},{"s":27,"w":370,"r":0.05},{"s":27,"w":390,"r":0.07},{"s":27,"w":450,"r":0.098},{"s":27,"w":500,"r":0.133},{"s":27,"w":550,"r":0.175},{"s":27,"w":600,"r":0.21},{"s":27,"w":650,"r":0.231},{"s":27,"w":700,"r":0.249},{"s":27,"w":750,"r":0.27},{"s":27,"w":800,"r":0.291},{"s":27,"w":850,"r":0.284},{"s":27,"w":900,"r":0.298},{"s":27,"w":1000,"r":0.312},{"s":27,"w":1100,"r":0.322},{"s":27,"w":1200,"r":0.336},{"s":27,"w":1300,"r":0.35},{"s":27,"w":1350,"r":0.35},{"s":27,"w":1380,"r":0.343},{"s":27,"w":1410,"r":0.294},{"s":27,"w":1450,"r":0.27},{"s":27,"w":1500,"r":0.28},{"s":27,"w":1600,"r":0.322},{"s":27,"w":1700,"r":0.347},{"s":27,"w":1800,"r":0.354},{"s":27,"w":1850,"r":0.347},{"s":27,"w":1880,"r":0.259},{"s":27,"w":1910,"r":0.168},{"s":27,"w":1940,"r":0.133},{"s":27,"w":1970,"r":0.149},{"s":27,"w":2000,"r":0.194},{"s":27,"w":2050,"r":0.245},{"s":27,"w":2100,"r":0.292},{"s":27,"w":2150,"r":0.317},{"s":27,"w":2200,"r":0.345},{"s":27,"w":2250,"r":0.32},{"s":27,"w":2300,"r":0.324},{"s":27,"w":2330,"r":0.285},{"s":27,"w":2360,"r":0.303},{"s":27,"w":2390,"r":0.25},{"s":27,"w":2420,"r":0.277},{"s":27,"w":2450,"r":0.216},{"s":27,"w":2480,"r":0.247},{"s":27,"w":2500,"r":0.184},
{"s":28,"w":350,"r":0.08},{"s":28,"w":370,"r":0.105},{"s":28,"w":390,"r":0.06},{"s":28,"w":450,"r":0.084},{"s":28,"w":500,"r":0.114},{"s":28,"w":550,"r":0.151},{"s":28,"w":600,"r":0.181},{"s":28,"w":650,"r":0.199},{"s":28,"w":700,"r":0.214},{"s":28,"w":750,"r":0.232},{"s":28,"w":800,"r":0.25},{"s":28,"w":850,"r":0.244},{"s":28,"w":900,"r":0.256},{"s":28,"w":1000,"r":0.276},{"s":28,"w":1100,"r":0.294},{"s":28,"w":1200,"r":0.307},{"s":28,"w":1300,"r":0.32},{"s":28,"w":1350,"r":0.32},{"s":28,"w":1380,"r":0.314},{"s":28,"w":1410,"r":0.269},{"s":28,"w":1450,"r":0.246},{"s":28,"w":1500,"r":0.256},{"s":28,"w":1600,"r":0.294},{"s":28,"w":1700,"r":0.317},{"s":28,"w":1800,"r":0.323},{"s":28,"w":1850,"r":0.317},{"s":28,"w":1880,"r":0.237},{"s":28,"w":1910,"r":0.154},{"s":28,"w":1940,"r":0.122},{"s":28,"w":1970,"r":0.137},{"s":28,"w":2000,"r":0.179},{"s":28,"w":2050,"r":0.227},{"s":28,"w":2100,"r":0.27},{"s":28,"w":2150,"r":0.307},{"s":28,"w":2200,"r":0.306},{"s":28,"w":2250,"r":0.316},{"s":28,"w":2300,"r":0.275},{"s":28,"w":2330,"r":0.29},{"s":28,"w":2360,"r":0.244},{"s":28,"w":2390,"r":0.266},{"s":28,"w":2420,"r":0.212},{"s":28,"w":2450,"r":0.243},{"s":28,"w":2480,"r":0.173},{"s":28,"w":2500,"r":0.213},
{"s":29,"w":350,"r":0.035},{"s":29,"w":370,"r":0.09},{"s":29,"w":390,"r":0.06},{"s":29,"w":450,"r":0.085},{"s":29,"w":500,"r":0.115},{"s":29,"w":550,"r":0.151},{"s":29,"w":600,"r":0.181},{"s":29,"w":650,"r":0.199},{"s":29,"w":700,"r":0.214},{"s":29,"w":750,"r":0.233},{"s":29,"w":800,"r":0.251},{"s":29,"w":850,"r":0.245},{"s":29,"w":900,"r":0.257},{"s":29,"w":1000,"r":0.263},{"s":29,"w":1100,"r":0.267},{"s":29,"w":1200,"r":0.278},{"s":29,"w":1300,"r":0.29},{"s":29,"w":1350,"r":0.29},{"s":29,"w":1380,"r":0.284},{"s":29,"w":1410,"r":0.244},{"s":29,"w":1450,"r":0.223},{"s":29,"w":1500,"r":0.232},{"s":29,"w":1600,"r":0.267},{"s":29,"w":1700,"r":0.287},{"s":29,"w":1800,"r":0.293},{"s":29,"w":1850,"r":0.287},{"s":29,"w":1880,"r":0.215},{"s":29,"w":1910,"r":0.139},{"s":29,"w":1940,"r":0.11},{"s":29,"w":1970,"r":0.124},{"s":29,"w":2000,"r":0.163},{"s":29,"w":2050,"r":0.208},{"s":29,"w":2100,"r":0.249},{"s":29,"w":2150,"r":0.28},{"s":29,"w":2200,"r":0.298},{"s":29,"w":2250,"r":0.274},{"s":29,"w":2300,"r":0.271},{"s":29,"w":2330,"r":0.235},{"s":29,"w":2360,"r":0.254},{"s":29,"w":2390,"r":0.208},{"s":29,"w":2420,"r":0.234},{"s":29,"w":2450,"r":0.174},{"s":29,"w":2480,"r":0.207},{"s":29,"w":2500,"r":0.144}
]},
"mark":{"type":"line","color":"#1a1a1a","strokeWidth":0.9},
"encoding":{
"x":{"field":"w","type":"quantitative","scale":{"domain":[300,2600],"nice":false,"zero":false},
"axis":{"values":[400,600,800,1000,1200,1400,1600,1800,2000,2200,2400],"labelExpr":"datum.value % 400 == 0 ? replace(format(datum.value, ','), ',', ' ') : ''","labelFont":"Liberation Serif, Times New Roman, DejaVu Serif, serif","tickSize":-4,"labelPadding":4,"labelFlush":false,"title":"波长(nm)","titleFont":"Noto Sans CJK SC","titleFontSize":12,"titleFontWeight":"normal","titleColor":"#333","titleY":26,"titleBaseline":"top"}},
"y":{"field":"r","type":"quantitative","scale":{"domain":[0,1],"nice":false},
"axis":{"values":[0,0.1,0.2,0.3,0.4,0.5,0.6,0.7,0.8,0.9,1.0],"format":".1f","labelFont":"Liberation Serif, Times New Roman, DejaVu Serif, serif","tickSize":-4,"labelPadding":4,"title":"反射率","titleFont":"Noto Sans CJK SC","titleFontSize":10,"titleFontWeight":"normal","titleColor":"#666","titleX":-34,"titleY":106,"titleAlign":"center","titleBaseline":"middle","titleAngle":270}},
"detail":{"field":"s","type":"nominal"}
}
}
